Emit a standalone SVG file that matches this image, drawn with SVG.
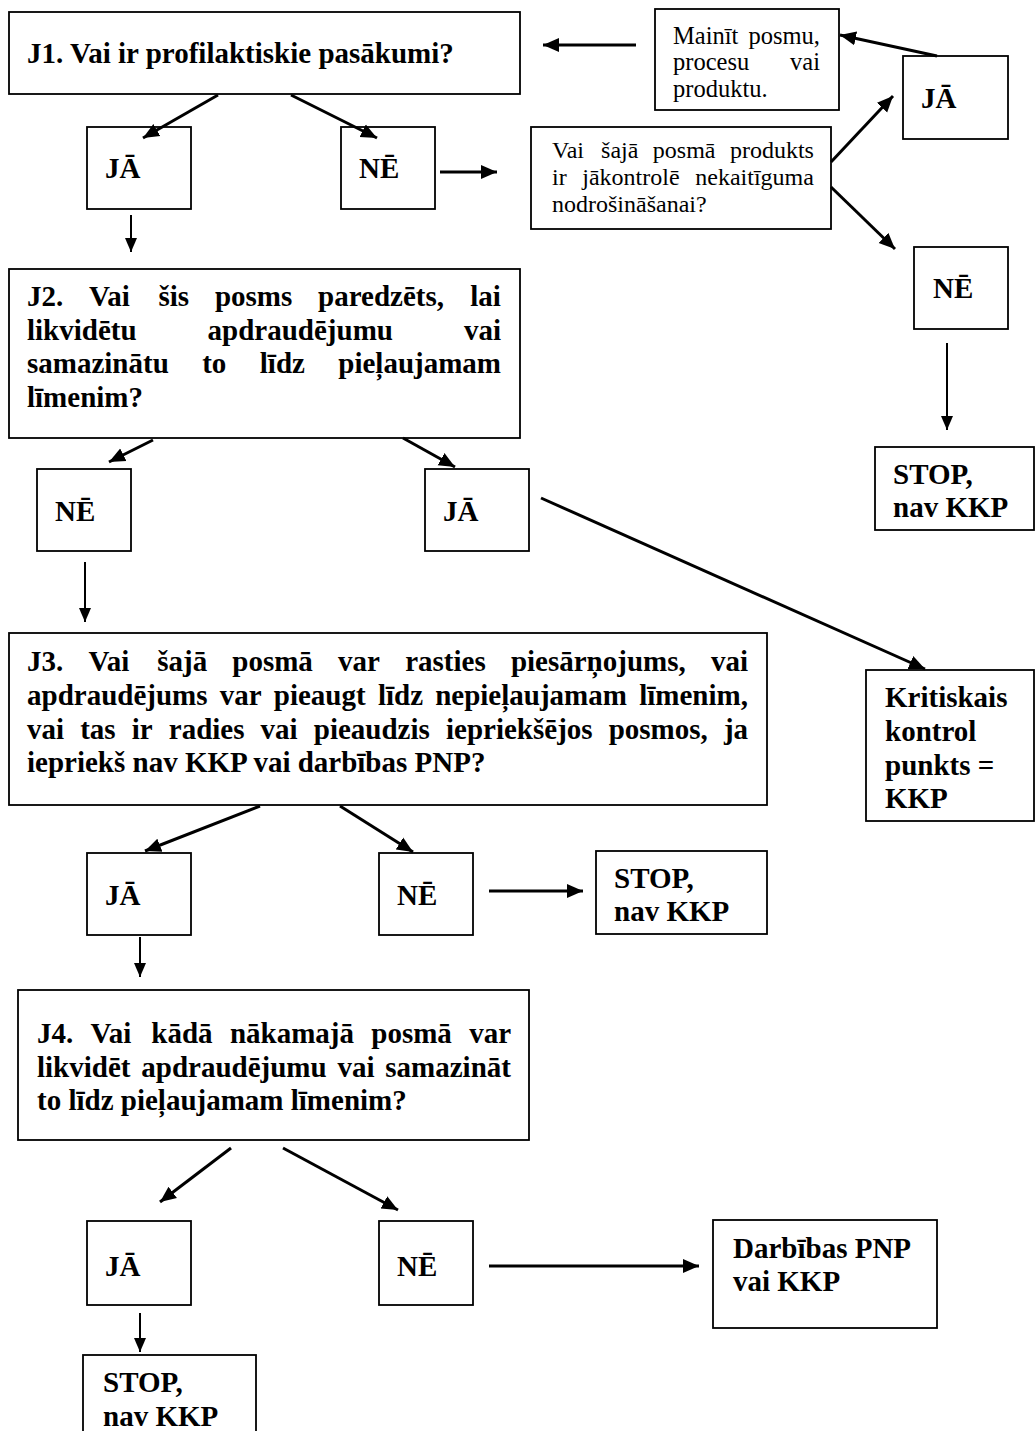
<svg xmlns="http://www.w3.org/2000/svg" width="1035" height="1431" viewBox="0 0 1035 1431">
<style>
.box{fill:#fff;stroke:#000;stroke-width:1.8}
.b{font-family:"Liberation Serif","Times New Roman",serif;font-weight:bold;font-size:29px;fill:#000}
.r{font-family:"Liberation Serif","Times New Roman",serif;font-size:24px;fill:#000}
.r2{font-family:"Liberation Serif","Times New Roman",serif;font-size:24.5px;fill:#000}
.c{fill:none;stroke:#000;stroke-width:3}
.t{fill:none;stroke:#000;stroke-width:2}
</style>
<defs>
<marker id="ah" markerUnits="userSpaceOnUse" markerWidth="18" markerHeight="16" refX="16" refY="7" orient="auto" viewBox="0 0 18 14">
<path d="M0,0 L16,7 L0,14 z" fill="#000"/>
</marker>
<marker id="as" markerUnits="userSpaceOnUse" markerWidth="16" markerHeight="12" refX="14" refY="6" orient="auto" viewBox="0 0 16 12">
<path d="M0,0 L14,6 L0,12 z" fill="#000"/>
</marker>
</defs>
<rect width="1035" height="1431" fill="#fff"/>

<g id="j1">
<rect class="box" x="9" y="12" width="511" height="82"/>
<text class="b" x="27" y="63">J1. Vai ir profilaktiskie pasākumi?</text>
</g>
<g id="j1-ja">
<rect class="box" x="87" y="127" width="104" height="82"/>
<text class="b" x="105" y="178">JĀ</text>
</g>
<g id="j1-ne">
<rect class="box" x="341" y="127" width="94" height="82"/>
<text class="b" x="359" y="178">NĒ</text>
</g>
<g id="q-kontrole">
<rect class="box" x="531" y="127" width="300" height="102"/>
<text class="r" y="158"><tspan x="552">Vai</tspan><tspan x="601.1">šajā</tspan><tspan x="652.8">posmā</tspan><tspan x="729.9">produkts</tspan></text>
<text class="r" y="185"><tspan x="552">ir</tspan><tspan x="582.3">jākontrolē</tspan><tspan x="695.3">nekaitīguma</tspan></text>
<text class="r" x="552" y="212">nodrošināšanai?</text>
</g>
<g id="mainit">
<rect class="box" x="655" y="9" width="184" height="101"/>
<text class="r2" y="44"><tspan x="673">Mainīt</tspan><tspan x="748.5">posmu,</tspan></text>
<text class="r2" y="70"><tspan x="673">procesu</tspan><tspan x="790.1">vai</tspan></text>
<text class="r2" x="673" y="97">produktu.</text>
</g>
<g id="q-ja">
<rect class="box" x="903" y="56" width="105" height="83"/>
<text class="b" x="921" y="108">JĀ</text>
</g>
<g id="q-ne">
<rect class="box" x="914" y="247" width="94" height="82"/>
<text class="b" x="933" y="298">NĒ</text>
</g>
<g id="stop1">
<rect class="box" x="875" y="447" width="159" height="83"/>
<text class="b" x="893" y="484">STOP,</text>
<text class="b" x="893" y="517">nav KKP</text>
</g>

<g id="j2">
<rect class="box" x="9" y="269" width="511" height="169"/>
<text class="b" y="306"><tspan x="27">J2.</tspan><tspan x="89.1">Vai</tspan><tspan x="158.4">šis</tspan><tspan x="214.9">posms</tspan><tspan x="318.1">paredzēts,</tspan><tspan x="470.3">lai</tspan></text>
<text class="b" y="340"><tspan x="27">likvidētu</tspan><tspan x="207.6">apdraudējumu</tspan><tspan x="463.9">vai</tspan></text>
<text class="b" y="373"><tspan x="27">samazinātu</tspan><tspan x="202.2">to</tspan><tspan x="259.8">līdz</tspan><tspan x="338.3">pieļaujamam</tspan></text>
<text class="b" x="27" y="407">līmenim?</text>
</g>
<g id="j2-ne">
<rect class="box" x="37" y="469" width="94" height="82"/>
<text class="b" x="55" y="521">NĒ</text>
</g>
<g id="j2-ja">
<rect class="box" x="425" y="469" width="104" height="82"/>
<text class="b" x="443" y="521">JĀ</text>
</g>
<g id="kkp">
<rect class="box" x="866" y="670" width="168" height="151"/>
<text class="b" x="885" y="707">Kritiskais</text>
<text class="b" x="885" y="741">kontrol</text>
<text class="b" x="885" y="775">punkts =</text>
<text class="b" x="885" y="808">KKP</text>
</g>

<g id="j3">
<rect class="box" x="9" y="633" width="758" height="172"/>
<text class="b" y="671"><tspan x="27">J3.</tspan><tspan x="88.5">Vai</tspan><tspan x="157.2">šajā</tspan><tspan x="232.3">posmā</tspan><tspan x="338.1">var</tspan><tspan x="405.2">rasties</tspan><tspan x="510.9">piesārņojums,</tspan><tspan x="710.9">vai</tspan></text>
<text class="b" y="705"><tspan x="27">apdraudējums</tspan><tspan x="219.7">var</tspan><tspan x="273.8">pieaugt</tspan><tspan x="377.9">līdz</tspan><tspan x="435.2">nepieļaujamam</tspan><tspan x="639.2">līmenim,</tspan></text>
<text class="b" y="739"><tspan x="27">vai</tspan><tspan x="80.2">tas</tspan><tspan x="131.7">ir</tspan><tspan x="168.8">radies</tspan><tspan x="260.6">vai</tspan><tspan x="313.8">pieaudzis</tspan><tspan x="446">iepriekšējos</tspan><tspan x="608.7">posmos,</tspan><tspan x="723.9">ja</tspan></text>
<text class="b" x="27" y="772">iepriekš nav KKP vai darbības PNP?</text>
</g>
<g id="j3-ja">
<rect class="box" x="87" y="853" width="104" height="82"/>
<text class="b" x="105" y="905">JĀ</text>
</g>
<g id="j3-ne">
<rect class="box" x="379" y="853" width="94" height="82"/>
<text class="b" x="397" y="905">NĒ</text>
</g>
<g id="stop3">
<rect class="box" x="596" y="851" width="171" height="83"/>
<text class="b" x="614" y="888">STOP,</text>
<text class="b" x="614" y="921">nav KKP</text>
</g>

<g id="j4">
<rect class="box" x="18" y="990" width="511" height="150"/>
<text class="b" y="1043"><tspan x="37">J4.</tspan><tspan x="90.55">Vai</tspan><tspan x="151.35">kādā</tspan><tspan x="229.9">nākamajā</tspan><tspan x="371.3">posmā</tspan><tspan x="469.2">var</tspan></text>
<text class="b" y="1077"><tspan x="37">likvidēt</tspan><tspan x="141.3">apdraudējumu</tspan><tspan x="337.5">vai</tspan><tspan x="385.3">samazināt</tspan></text>
<text class="b" x="37" y="1110">to līdz pieļaujamam līmenim?</text>
</g>
<g id="j4-ja">
<rect class="box" x="87" y="1221" width="104" height="84"/>
<text class="b" x="105" y="1276">JĀ</text>
</g>
<g id="j4-ne">
<rect class="box" x="379" y="1221" width="94" height="84"/>
<text class="b" x="397" y="1276">NĒ</text>
</g>
<g id="darbibas">
<rect class="box" x="713" y="1220" width="224" height="108"/>
<text class="b" x="733" y="1258">Darbības PNP</text>
<text class="b" x="733" y="1291">vai KKP</text>
</g>
<g id="stop4">
<rect class="box" x="83" y="1355" width="173" height="90"/>
<text class="b" x="103" y="1392">STOP,</text>
<text class="b" x="103" y="1426">nav KKP</text>
</g>

<g id="connectors">
<line class="c" x1="218" y1="95" x2="143" y2="138" marker-end="url(#ah)"/>
<line class="c" x1="291" y1="95" x2="377" y2="138" marker-end="url(#ah)"/>
<line class="c" x1="440" y1="172" x2="497" y2="172" marker-end="url(#ah)"/>
<line class="c" x1="831" y1="162" x2="893" y2="96" marker-end="url(#ah)"/>
<line class="c" x1="831" y1="187" x2="895" y2="249" marker-end="url(#ah)"/>
<line class="c" x1="937" y1="56" x2="840" y2="35" marker-end="url(#ah)"/>
<line class="c" x1="636" y1="45" x2="543" y2="45" marker-end="url(#ah)"/>
<line class="t" x1="131" y1="215" x2="131" y2="252" marker-end="url(#as)"/>
<line class="t" x1="947" y1="343" x2="947" y2="430" marker-end="url(#as)"/>
<line class="c" x1="153" y1="440" x2="109" y2="462" marker-end="url(#ah)"/>
<line class="c" x1="403" y1="438" x2="455" y2="467" marker-end="url(#ah)"/>
<line class="t" x1="85" y1="562" x2="85" y2="622" marker-end="url(#as)"/>
<line class="c" x1="541" y1="498" x2="925" y2="669" marker-end="url(#ah)"/>
<line class="c" x1="260" y1="806" x2="145" y2="851" marker-end="url(#ah)"/>
<line class="c" x1="340" y1="806" x2="413" y2="852" marker-end="url(#ah)"/>
<line class="c" x1="489" y1="891" x2="583" y2="891" marker-end="url(#ah)"/>
<line class="t" x1="140" y1="937" x2="140" y2="977" marker-end="url(#as)"/>
<line class="c" x1="231" y1="1148" x2="160" y2="1202" marker-end="url(#ah)"/>
<line class="c" x1="283" y1="1148" x2="398" y2="1210" marker-end="url(#ah)"/>
<line class="c" x1="489" y1="1266" x2="699" y2="1266" marker-end="url(#ah)"/>
<line class="t" x1="140" y1="1313" x2="140" y2="1352" marker-end="url(#as)"/>
</g>
</svg>
